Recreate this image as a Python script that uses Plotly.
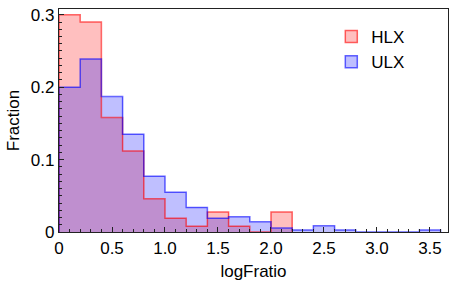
import plotly.graph_objects as go

bin_width = 0.2
hlx_vals = [0.300, 0.290, 0.158, 0.112, 0.046, 0.019, 0.008, 0.0275, 0.008, 0.0, 0.0275]
ulx_vals = [0.200, 0.239, 0.187, 0.135, 0.077, 0.055, 0.034, 0.019, 0.021, 0.014,
            0.0055, 0.0027, 0.0088, 0.0027, 0.0, 0.0, 0.0, 0.0027]
xtick_vals = [0, 0.5, 1.0, 1.5, 2.0, 2.5, 3.0, 3.5]
xtick_text = ["0", "0.5", "1.0", "1.5", "2.0", "2.5", "3.0", "3.5"]
ytick_vals = [0, 0.1, 0.2, 0.3]
ytick_text = ["0", "0.1", "0.2", "0.3"]

series = [
    ("HLX", hlx_vals, "rgba(255,0,0,0.25)", "rgba(255,0,0,0.6)"),
    ("ULX", ulx_vals, "rgba(0,0,255,0.25)", "rgba(0,0,255,0.6)"),
]

fig = go.Figure()
for name, vals, fill, edge in series:
    n = len(vals)
    edges = [round(i * bin_width, 6) for i in range(n + 1)]
    centers = [e + bin_width / 2 for e in edges[:-1]]
    fig.add_trace(go.Bar(x=centers, y=vals, width=bin_width, marker=dict(color=fill, line=dict(width=0)),
                         showlegend=False, hoverinfo="skip"))
    fig.add_trace(go.Scatter(x=[edges[0]] + edges[:-1] + [edges[-1]], y=[0] + vals + [0],
                             mode="lines", line=dict(shape="hv", color=edge, width=1.5),
                             showlegend=False, hoverinfo="skip"))
for name, vals, fill, edge in series:
    fig.add_trace(go.Bar(x=[None], y=[None], name=name,
                         marker=dict(color=fill, line=dict(color=edge, width=1.5))))

FONT = "Liberation Sans"
axis_common = dict(showgrid=False, zeroline=False, showline=True, linecolor="#222", linewidth=1.2,
                   mirror=True, ticks="inside", ticklen=5, tickcolor="#222", tickwidth=1,
                   tickfont=dict(size=17, color="black", family=FONT))
fig.update_layout(
    width=463, height=283,
    margin=dict(l=59, r=15, t=6, b=51),
    plot_bgcolor="white", paper_bgcolor="white",
    barmode="overlay", bargap=0,
    font=dict(family=FONT, size=17, color="black"),
    xaxis=dict(range=[0, 3.67], tickvals=xtick_vals, ticktext=xtick_text,
               minor=dict(dtick=0.1, tick0=0, ticks="inside", ticklen=3, tickcolor="#222"),
               title=dict(text="logFratio", font=dict(size=17), standoff=8), **axis_common),
    yaxis=dict(range=[0, 0.308], tickvals=ytick_vals, ticktext=ytick_text,
               minor=dict(dtick=0.01, tick0=0, ticks="inside", ticklen=3, tickcolor="#222"),
               title=dict(text="Fraction", font=dict(size=17), standoff=6), **axis_common),
    legend=dict(x=0.70, y=0.955, xanchor="left", yanchor="top", bgcolor="rgba(0,0,0,0)",
                font=dict(size=17), tracegroupgap=0, itemwidth=30),
)
fig.write_html("out.html", config={"displayModeBar": False},
               post_script="document.body.style.margin='0';document.body.style.padding='0';")
